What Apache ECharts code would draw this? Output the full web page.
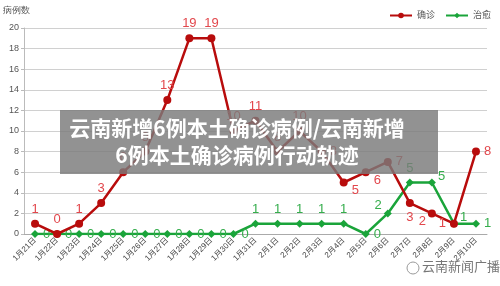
<!DOCTYPE html>
<html>
<head>
<meta charset="utf-8">
<script src="https://cdn.jsdelivr.net/npm/echarts@6/dist/echarts.min.js"></script>
<style>
  html, body { margin: 0; padding: 0; background: #fff; }
  #chart { width: 500px; height: 286px; }
</style>
</head>
<body>
<div id="chart"></div>
<script>
// 日期
const days = ['1月21日', '1月22日', '1月23日', '1月24日', '1月25日', '1月26日', '1月27日',
    '1月28日', '1月29日', '1月30日', '1月31日', '2月1日', '2月2日', '2月3日', '2月4日',
    '2月5日', '2月6日', '2月7日', '2月8日', '2月9日', '2月10日'];
// 确诊
const confirmed = [1, 0, 1, 3, 6, 8, 13, 19, 19, 10, 11, 8, 10, 8, 5, 6, 7, 3, 2, 1, 8];
// 治愈
const cured = [0, 0, 0, 0, 0, 0, 0, 0, 0, 0, 1, 1, 1, 1, 1, 0, 2, 5, 5, 1, 1];
const yTicks = [0, 2, 4, 6, 8, 10, 12, 14, 16, 18, 20];

// label placement (style only)
const redPos = ['top', 'top', 'top', 'top', 'top', 'top', 'top', 'top', 'top', 'top', 'top',
    'top', 'top', 'right', 'bottomRight', 'bottomRight', 'right', 'bottom', 'bottomLeft', 'left', 'right'];
const greenPos = ['right', 'right', 'right', 'right', 'right', 'right', 'right', 'right', 'right', 'right',
    'top', 'top', 'top', 'top', 'top', 'right', 'topLeft', 'top', 'topRight', 'topRight', 'right'];

function withLabels(values, pos) {
    return values.map((v, i) => {
        let p = pos[i], offset = [0, 0];
        if (p === 'bottomRight') { p = 'right'; offset = [0, 8]; }
        if (p === 'bottomLeft') { p = 'left'; offset = [2, 8]; }
        if (p === 'topLeft') { p = 'left'; offset = [2, -8]; }
        if (p === 'topRight') { p = 'right'; offset = [-2, -6]; }
        return { value: v, label: { position: p, offset: offset } };
    });
}

const chart = echarts.init(document.getElementById('chart'));
const option = {
    animation: false,
    textStyle: { fontFamily: 'Liberation Sans, Noto Sans CJK SC, sans-serif' },
    grid: { left: 24, right: 13, top: 28, bottom: 52 },
    legend: {
        top: 6, right: 4,
        itemWidth: 22, itemHeight: 7, itemGap: 10,
        textStyle: { fontSize: 9, color: '#555' },
        data: ['确诊', '治愈']
    },
    xAxis: {
        type: 'category',
        data: days,
        boundaryGap: true,
        axisLine: { lineStyle: { color: '#aaa' } },
        axisTick: { lineStyle: { color: '#aaa' }, length: 4 },
        axisLabel: { interval: 0, rotate: 45, fontSize: 8, color: '#444', margin: 5 }
    },
    yAxis: {
        type: 'value',
        min: yTicks[0], max: yTicks[yTicks.length - 1], interval: 2,
        axisLine: { show: true, lineStyle: { color: '#bbb' } },
        axisTick: { show: true, length: 3, lineStyle: { color: '#bbb' } },
        axisLabel: { fontSize: 9, color: '#555', margin: 5 },
        splitLine: { lineStyle: { color: '#d0d0d0', width: 1 } }
    },
    series: [{
        name: '确诊',
        type: 'line',
        data: withLabels(confirmed, redPos),
        symbol: 'circle', symbolSize: 8,
        itemStyle: { color: '#b80c0c' },
        lineStyle: { color: '#b80c0c', width: 2.5 },
        label: { show: true, fontSize: 13, color: '#e2474c', distance: 4 },
        z: 3
    }, {
        name: '治愈',
        type: 'line',
        data: withLabels(cured, greenPos),
        symbol: 'diamond', symbolSize: 8,
        itemStyle: { color: '#1aa43a' },
        lineStyle: { color: '#1aa43a', width: 2.5 },
        label: { show: true, fontSize: 13, color: '#35ad4c', distance: 4 },
        z: 2
    }],
    graphic: [{
        type: 'text', left: 3, top: 6, z: 10,
        style: { text: '病例数', fontSize: 9, fill: '#555' }
    }, {
        type: 'group', left: 60, top: 110, z: 100,
        children: [{
            type: 'rect', z: 100,
            shape: { x: 0, y: 0, width: 378, height: 64 },
            style: { fill: 'rgba(122,122,122,0.82)' }
        }, {
            type: 'text', x: 177, y: 32, z: 101,
            style: {
                text: '云南新增6例本土确诊病例/云南新增\n6例本土确诊病例行动轨迹',
                fill: '#fff', fontSize: 21, fontWeight: 'bold', lineHeight: 27,
                align: 'center', verticalAlign: 'middle',
                fontFamily: 'Noto Sans CJK SC, sans-serif'
            }
        }]
    }, {
        type: 'circle', z: 10,
        shape: { cx: 413, cy: 268, r: 6 },
        style: { fill: 'none', stroke: '#999', lineWidth: 1 }
    }, {
        type: 'text', left: 422, top: 260, z: 10,
        style: { text: '云南新闻广播', fontSize: 13, fill: '#777', fontFamily: 'Noto Sans CJK SC, sans-serif' }
    }]
};
chart.setOption(option);
</script>
</body>
</html>
